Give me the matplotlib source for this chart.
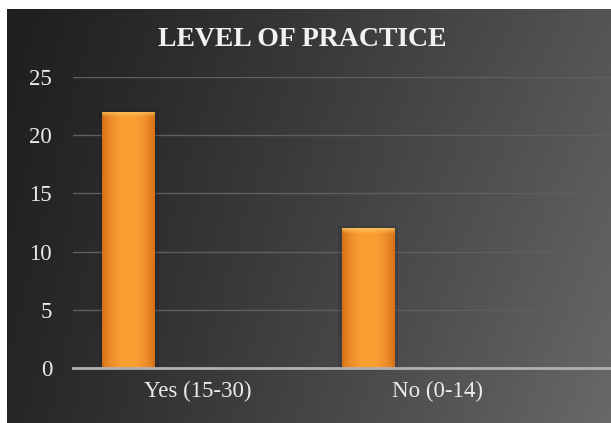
import matplotlib.pyplot as plt
import numpy as np

categories = ["Yes (15-30)", "No (0-14)"]
values = [22, 12]
yticks = [0, 5, 10, 15, 20, 25]
title = "LEVEL OF PRACTICE"

fig = plt.figure(figsize=(6.11, 4.23), dpi=100)
fig.patch.set_facecolor("white")

# dark gradient background of the chart area
bg = fig.add_axes([7 / 611, 0, 1 - 7 / 611, 1 - 9 / 423])
bg.set_axis_off()
gx, gy = np.meshgrid(np.linspace(0, 1, 300), np.linspace(0, 1, 200))
shade = 0.12 + 0.21 * gx ** 1.1 + 0.05 * gy * gx + 0.03 * gy
shade = np.clip(shade, 0, 1)
bg.imshow(np.dstack([shade, shade, shade]), aspect="auto", extent=(0, 1, 0, 1), origin="upper")
bg.set_xlim(0, 1)
bg.set_ylim(0, 1)

ax = fig.add_axes([73 / 611, 1 - 368 / 423, 1 - 73 / 611, (368 - 77) / 423])
ax.patch.set_alpha(0)

x = np.arange(len(categories))
offset = -0.288
width = 0.22
bars = ax.bar(x + offset, values, width=width, color="#f29428", zorder=3)

# orange gradient fill with a light bevel on top
for b in bars:
    x0, w, h = b.get_x(), b.get_width(), b.get_height()
    t = np.linspace(-1, 1, 60)
    horiz = 1 - np.abs(t) ** 2.5
    rows = 200
    img = np.zeros((rows, 60, 3))
    base_dark = np.array([0.84, 0.44, 0.10])
    base_light = np.array([0.98, 0.62, 0.20])
    for i in range(rows):
        img[i] = base_dark + (base_light - base_dark) * horiz[:, None]
    bev = int(rows * 0.5 / h)
    for i in range(bev):
        k = 1 - i / max(bev, 1)
        img[i] = img[i] * (1 - 0.6 * k) + np.array([1.0, 0.85, 0.45]) * 0.6 * k
    im = ax.imshow(img, extent=(x0, x0 + w, 0, h), aspect="auto", origin="upper", zorder=4)
    im.set_clip_path(b)
    # soft dark shadow around the bar
    ax.bar(x0 + w / 2, h + 0.2, width=w + 0.03, color="#101418", alpha=0.15, zorder=2)

ax.set_xlim(-0.52, 1.726)
ax.set_ylim(0, 25)
ax.set_yticks(yticks)
ax.set_xticks(x)
ax.set_xticklabels(categories)
ax.grid(axis="y", color="#5f5f5f", linewidth=1, zorder=0)
ax.set_axisbelow(True)
for s in ["top", "right", "left"]:
    ax.spines[s].set_visible(False)
ax.spines["bottom"].set_color("#b0b0b0")
ax.spines["bottom"].set_linewidth(2)
ax.spines["bottom"].set_zorder(5)
ax.tick_params(axis="both", length=0, colors="#ececec", labelsize=16.5)
ax.tick_params(axis="y", pad=15)
ax.tick_params(axis="x", pad=9)
for lab in ax.get_xticklabels() + ax.get_yticklabels():
    lab.set_fontfamily("Liberation Serif")

fig.text(302 / 611, 1 - 40 / 423, title, ha="center", va="center", color="#f2f2f2",
         fontsize=20, fontweight="bold", family="Liberation Serif")

fig.savefig("out.png", dpi=100, facecolor=fig.get_facecolor())
